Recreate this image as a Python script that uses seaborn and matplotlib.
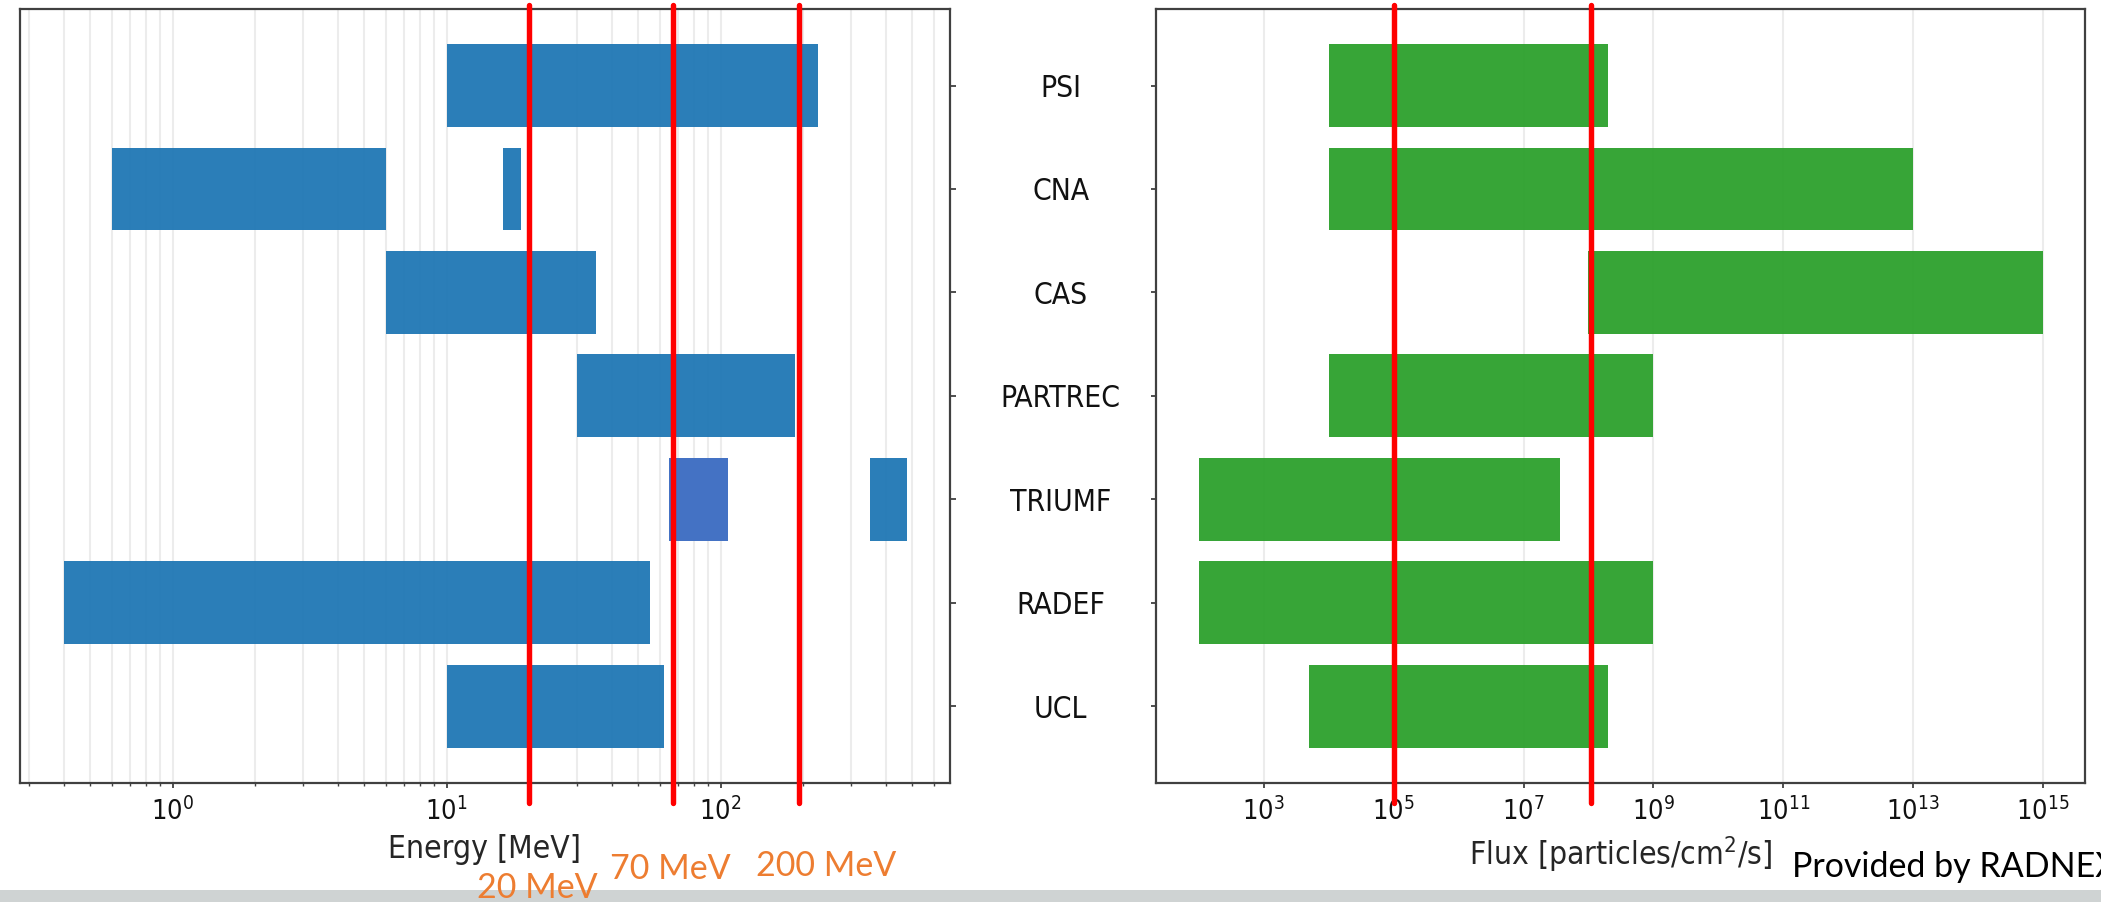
import matplotlib
matplotlib.use('Agg')
import matplotlib.pyplot as plt
from matplotlib.patches import Rectangle
from matplotlib.ticker import NullLocator
import seaborn as sns
import pandas as pd

# facilities, top to bottom
facilities = ['PSI', 'CNA', 'CAS', 'PARTREC', 'TRIUMF', 'RADEF', 'UCL']

# energy range per facility [MeV]
energy_low = [10, 0.6, 6, 30, 352, 0.4, 10]
energy_high = [227, 6, 35, 187, 480, 55, 62]
# extra energy line at CNA
extra_fac = ['CNA']
extra_low = [16]
extra_high = [18.7]
# box pasted over the TRIUMF row
overlay_fac = ['TRIUMF']
overlay_low = [64.5]
overlay_high = [106]

# flux range per facility [particles/cm2/s]
flux_low = [1e4, 1e4, 1e8, 1e4, 1e2, 1e2, 5e3]
flux_high = [2e8, 1e13, 1e15, 1e9, 3.6e7, 1e9, 2e8]
flux_ticks = [1e3, 1e5, 1e7, 1e9, 1e11, 1e13, 1e15]

# red marker lines
energy_marks = [20, 67, 193]
energy_mark_labels = ['20 MeV', '70 MeV', '200 MeV']
flux_marks = [1e5, 1.1e8]

sns.set_style('ticks')
plt.rcParams['font.family'] = ['DejaVu Sans']
plt.rcParams['font.stretch'] = 'condensed'
plt.rcParams['axes.edgecolor'] = '#404040'
plt.rcParams['axes.linewidth'] = 1.6
plt.rcParams['xtick.color'] = '#404040'
plt.rcParams['ytick.color'] = '#404040'
plt.rcParams['xtick.labelcolor'] = '#111111'
plt.rcParams['ytick.labelcolor'] = '#111111'


def range_bars(ax, fac, low, high, color, alpha=0.95):
    df = pd.DataFrame({'facility': fac,
                       'width': [h - l for l, h in zip(low, high)]})
    sns.barplot(data=df, x='width', y='facility', order=facilities, orient='h',
                color=color, saturation=1, errorbar=None, left=low,
                linewidth=0, width=0.8, alpha=alpha, ax=ax)


fig = plt.figure(figsize=(21.01, 9.02), dpi=100)
ax1 = fig.add_axes([20 / 2101, 1 - 782.7 / 902, 930 / 2101, 773.7 / 902])
ax2 = fig.add_axes([1156 / 2101, 1 - 782.7 / 902, 929 / 2101, 773.7 / 902])

# left: energy
ax1.set_xscale('log')
range_bars(ax1, facilities, energy_low, energy_high, '#1f77b4')
range_bars(ax1, extra_fac, extra_low, extra_high, '#1f77b4')
range_bars(ax1, overlay_fac, overlay_low, overlay_high, '#4472c4', alpha=1)
ax1.set_xlim(0.277, 687)
ax1.set_ylim(6.74, -0.74)
ax1.grid(True, which='both', axis='x', color='#ececec', linewidth=1.5)
ax1.set_axisbelow(True)
ax1.yaxis.tick_right()
ax1.tick_params(axis='y', labelright=False, length=4.5, width=1.3)
ax1.tick_params(axis='x', which='major', labelsize=19.5, length=3.5, width=1.3,
                pad=7)
ax1.tick_params(axis='x', which='minor', length=2.2, width=1.0)
ax1.set_ylabel('')
ax1.set_xlabel('Energy [MeV]', fontsize=22.8, labelpad=6)
for e in energy_marks:
    ax1.axvline(e, ymin=-0.0262, ymax=1.005, color='#ff0000', linewidth=3.9,
                clip_on=False, zorder=5)

# right: flux
ax2.set_xscale('log')
range_bars(ax2, facilities, flux_low, flux_high, '#2ca02c')
ax2.set_xlim(22, 4.4e15)
ax2.set_ylim(6.74, -0.74)
ax2.set_xticks(flux_ticks)
ax2.xaxis.set_minor_locator(NullLocator())
ax2.grid(True, which='major', axis='x', color='#ececec', linewidth=1.5)
ax2.set_axisbelow(True)
ax2.tick_params(axis='y', labelsize=21.5, length=3.5, width=1.3, pad=65)
for lab in ax2.get_yticklabels():
    lab.set_horizontalalignment('center')
ax2.tick_params(axis='x', labelsize=19.5, length=3.5, width=1.3, pad=7)
ax2.set_ylabel('')
ax2.set_xlabel('Flux [particles/cm$^2$/s]', fontsize=22.8, labelpad=6)
for f in flux_marks:
    ax2.axvline(f, ymin=-0.0262, ymax=1.005, color='#ff0000', linewidth=3.9,
                clip_on=False, zorder=5)

# slide decorations
fig.patches.append(Rectangle((0, 0), 1, 12 / 902, transform=fig.transFigure,
                             facecolor='#cfd3d3', edgecolor='none', zorder=0))
label_pos = [(537, 898), (670, 879), (826, 876)]
for text, (px, py) in zip(energy_mark_labels, label_pos):
    fig.text(px / 2101, 1 - py / 902, text, color='#ed7d31', fontsize=24.5,
             family='Lato', ha='center', va='baseline', zorder=10)
fig.text(1792 / 2101, 1 - 877 / 902, 'Provided by RADNEX', color='black',
         fontsize=24.5, family='Lato', ha='left', va='baseline', zorder=10)

fig.savefig('out.png', dpi=100)
